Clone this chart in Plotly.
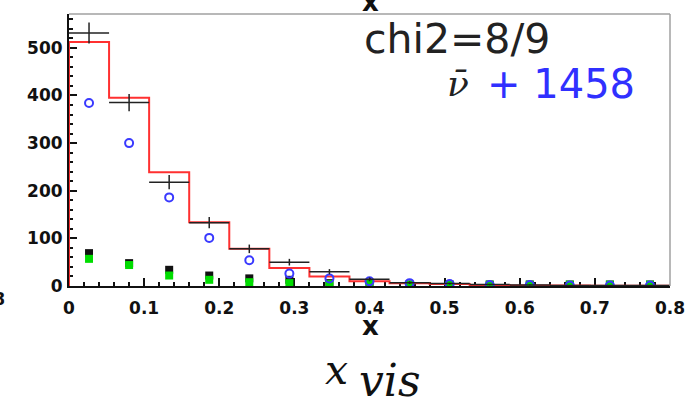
import numpy as np
import plotly.graph_objects as go

# ---- data ----
bin_edges = np.linspace(0.0, 0.8, 16)           # 15 bins of x
bin_centers = 0.5 * (bin_edges[:-1] + bin_edges[1:])
half_width = 0.5 * (bin_edges[1] - bin_edges[0])

mc_total = [512, 395, 239, 134, 78, 38, 20, 10, 6, 4, 2, 1, 1, 0.5, 0.5]      # red histogram
data_vals = [531, 385, 218, 133, 78, 50, 30, 14, 7, 5, 3, 2, 1, 1, 1]          # black crosses
data_errs = [22, 18, 15, 12, 9, 7, 5.5, 4, 3, 2, 1.5, 1.2, 1, 1, 1]
nubar_vals = [384, 300, 186, 101, 54, 26, 16, 10, 6, 4, 2, 2, 1, 1, 1]        # blue open circles
black_sq = [69, 48, 34, 22, 16, 13, 6, 4, 3, 3, 3, 3, 3, 3, 3]                 # black squares
green_sq = [57, 44, 22, 13, 8, 6, 4, 4, 3, 3, 3, 3, 3, 3, 3]                   # green squares

y_ticks = [0, 100, 200, 300, 400, 500]
x_ticks = [0, 0.1, 0.2, 0.3, 0.4, 0.5, 0.6, 0.7, 0.8]
x_ticklabels = ["0", "0.1", "0.2", "0.3", "0.4", "0.5", "0.6", "0.7", "0.8"]

# ---- figure ----
W, H = 690, 404
ML, MR, MT, MB = 69, 20, 14, 118
PW, PH = W - ML - MR, H - MT - MB


def px(xp):
    return (xp - ML) / PW


def py(yp):
    return (H - MB - yp) / PH


fig = go.Figure()

step_x = [bin_edges[0]] + list(bin_edges)
step_y = [0] + list(mc_total) + [0]
fig.add_trace(go.Scatter(x=step_x, y=step_y, mode="lines",
                         line=dict(shape="hv", color="#ff3030", width=2),
                         hoverinfo="skip", showlegend=False))

fig.add_trace(go.Scatter(x=bin_centers, y=black_sq, mode="markers",
                         marker=dict(symbol="square", size=8, color="#111111"),
                         showlegend=False))
fig.add_trace(go.Scatter(x=bin_centers, y=green_sq, mode="markers",
                         marker=dict(symbol="square", size=8, color="#00dd00"),
                         showlegend=False))
fig.add_trace(go.Scatter(x=bin_centers, y=nubar_vals, mode="markers",
                         marker=dict(symbol="circle-open", size=8, color="#3a3aff",
                                     line=dict(width=2, color="#3a3aff")),
                         showlegend=False))
fig.add_trace(go.Scatter(x=bin_centers, y=data_vals, mode="markers",
                         marker=dict(size=1, color="rgba(0,0,0,0)"),
                         error_x=dict(type="constant", value=half_width, color="#222222",
                                      thickness=1.5, width=0),
                         error_y=dict(type="data", array=data_errs, color="#222222",
                                      thickness=1.5, width=0),
                         showlegend=False))

tickfont = dict(family="DejaVu Sans", size=17, color="#111111", weight="bold")

fig.update_xaxes(range=[0, 0.8], tickvals=x_ticks, ticktext=x_ticklabels,
                 ticks="inside", ticklen=8, tickwidth=2, tickcolor="#111111",
                 minor=dict(ticks="inside", ticklen=4, tickwidth=1.5, dtick=0.02,
                            tickcolor="#111111"),
                 showline=True, linecolor="#111111", linewidth=2,
                 showgrid=False, zeroline=False, tickfont=tickfont,
                 ticklabelstandoff=6, layer="below traces", automargin=False)
fig.update_yaxes(range=[0, 571], tickvals=y_ticks,
                 ticks="inside", ticklen=8, tickwidth=2, tickcolor="#111111",
                 minor=dict(ticks="inside", ticklen=4, tickwidth=1.5, dtick=20,
                            tickcolor="#111111"),
                 showline=True, linecolor="#111111", linewidth=2,
                 showgrid=False, zeroline=False, tickfont=tickfont,
                 ticklabelstandoff=1, layer="below traces", automargin=False)

# grey top / right frame
fig.add_shape(type="line", xref="paper", yref="paper", x0=0, x1=1, y0=1, y1=1,
              line=dict(color="#a0a0a0", width=1.5))
fig.add_shape(type="line", xref="paper", yref="paper", x0=1, x1=1, y0=0, y1=1,
              line=dict(color="#a0a0a0", width=1.5))

ann = []
ann.append(dict(text="chi2=8/9", x=px(362), y=py(39), xanchor="left", yanchor="middle",
                font=dict(family="DejaVu Sans", size=41, color="#222222")))
ann.append(dict(text="<i>ν̄</i>", x=px(445), y=py(83), xanchor="left", yanchor="middle",
                font=dict(family="DejaVu Serif", size=36, color="#222222")))
ann.append(dict(text="+ 1458", x=px(485), y=py(84), xanchor="left", yanchor="middle",
                font=dict(family="DejaVu Sans", size=40, color="#3030ff")))
# top cut-off "x" from panel above
ann.append(dict(text="x", x=px(370), y=py(19), xanchor="center", yanchor="bottom",
                font=dict(family="DejaVu Sans", size=26, color="#111111", weight="bold")))
# axis title
ann.append(dict(text="x", x=px(370), y=py(326), xanchor="center", yanchor="middle",
                font=dict(family="DejaVu Sans", size=26, color="#111111", weight="bold")))
# left cut-off label from neighbouring panel
ann.append(dict(text="0.8", x=px(7), y=py(299), xanchor="right", yanchor="middle",
                font=tickfont))
# big x_vis label
ann.append(dict(text="<i>x</i>", x=px(336), y=py(370), xanchor="center", yanchor="middle",
                font=dict(family="DejaVu Serif", size=41, color="#111111")))
ann.append(dict(text="<i>vis</i>", x=px(357), y=py(380), xanchor="left", yanchor="middle",
                font=dict(family="DejaVu Serif", size=44, color="#111111")))
for a in ann:
    a.update(xref="paper", yref="paper", showarrow=False)

fig.update_layout(width=W, height=H, margin=dict(l=ML, r=MR, t=MT, b=MB),
                  paper_bgcolor="white", plot_bgcolor="white",
                  annotations=ann, showlegend=False)

fig.write_html("out.html", config={"displayModeBar": False},
               post_script="document.body.style.margin='0px';document.body.style.overflow='hidden';")
